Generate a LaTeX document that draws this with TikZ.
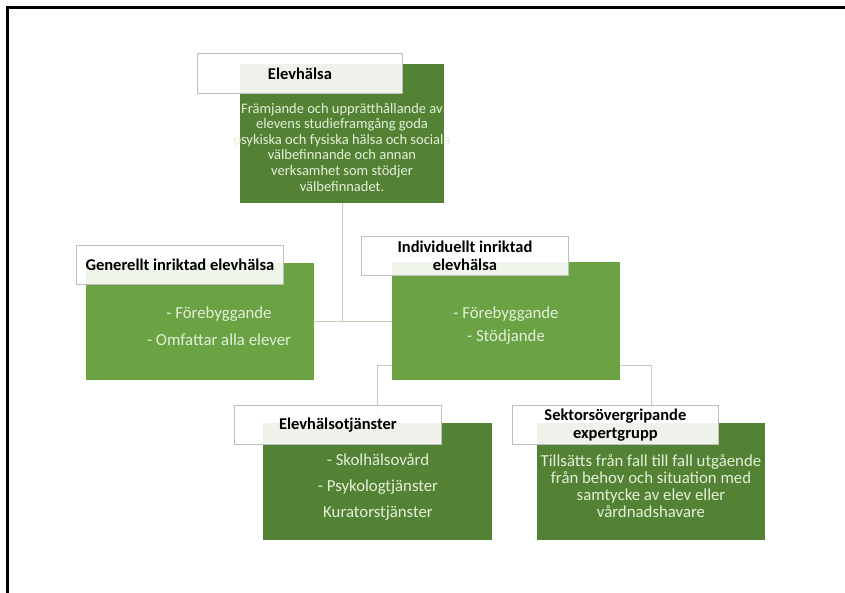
\documentclass[tikz,border=0pt]{standalone}
\usepackage{fontspec}
\setmainfont{Carlito}
\definecolor{dkgreen}{RGB}{84,130,53}
\definecolor{ltgreen}{RGB}{106,162,68}
\definecolor{boxtxt}{RGB}{226,240,217}
\definecolor{lblborder}{RGB}{190,190,190}
\definecolor{conn}{RGB}{195,208,185}
\begin{document}
\begin{tikzpicture}[x=1pt,y=-1pt,
  gbox/.style={fill=#1, draw=none, inner sep=0pt, anchor=north west},
  lbox/.style={fill=white, fill opacity=0.9, text opacity=1, draw=lblborder, line width=0.8pt, inner sep=0pt, anchor=north west,
     minimum width=207pt, minimum height=39pt},
  ltxt/.style={font=\fontsize{16.5}{18}\selectfont\bfseries, align=center, text=black, inner sep=0pt},
  btxt/.style={font=\fontsize{16.8}{20}\selectfont, align=center, text=boxtxt, inner sep=0pt},
  connector/.style={draw=conn, line width=1.4pt}]
\useasboundingbox (0,0) rectangle (845,593);
\fill[white] (0,0) rectangle (845,593);
% frame
\draw[black, line width=3pt] (7.5,593) -- (7.5,7.5) -- (845,7.5);

% green boxes
\node[gbox=dkgreen, minimum width=204pt, minimum height=139pt] (top) at (240,64) {};
\node[gbox=ltgreen, minimum width=228pt, minimum height=117pt] (gen) at (86,263) {};
\node[gbox=ltgreen, minimum width=228pt, minimum height=118pt] (ind) at (392,262) {};
\node[gbox=dkgreen, minimum width=229pt, minimum height=117pt] (elv) at (263,423) {};
\node[gbox=dkgreen, minimum width=228pt, minimum height=117pt] (sek) at (537,423) {};

% connectors
\coordinate (j) at ([yshift=15pt]ind.south);
\draw[connector] (top.south) |- (gen.east);
\draw[connector] (top.south |- ind.west) -- (ind.west);
\draw[connector] (ind.south) -- (j) -| (elv.north);
\draw[connector] (j) -| (sek.north);

% redraw boxes on top of connectors
\fill[dkgreen] (top.north west) rectangle (top.south east);
\fill[ltgreen] (gen.north west) rectangle (gen.south east);
\fill[ltgreen] (ind.north west) rectangle (ind.south east);
\fill[dkgreen] (elv.north west) rectangle (elv.south east);
\fill[dkgreen] (sek.north west) rectangle (sek.south east);

% label boxes
\node[lbox, minimum width=205pt, minimum height=40pt] (toplbl) at (197,53) {};
\node[lbox] (genlbl) at (76,245) {};
\node[lbox] (indlbl) at (361,236) {};
\node[lbox] (elvlbl) at (234,405) {};
\node[lbox, minimum width=206pt] (seklbl) at (512,405) {};

\node[ltxt] (toplt) at (toplbl.center) {Elevhälsa};
\node[ltxt] (genlt) at (genlbl.center) {Generellt inriktad elevhälsa};
\node[ltxt] (indlt) at (indlbl.center) {Individuellt inriktad\\elevhälsa};
\node[ltxt] (elvlt) at (elvlbl.center) {Elevhälsotjänster};
\node[ltxt] (seklt) at (seklbl.center) {Sektorsövergripande\\expertgrupp};

% body texts
\node[btxt, font=\fontsize{14.5}{15.6}\selectfont] (toptx) at (342,147) {Främjande och upprätthållande av\\elevens studieframgång goda\\psykiska och fysiska hälsa och sociala\\välbefinnande och annan\\verksamhet som stödjer\\välbefinnadet.};
\node[btxt] (gentx) at (219,326) {- Förebyggande\\[7pt]- Omfattar alla elever};
\node[btxt] (indtx) at (506,326) {- Förebyggande\\[3pt]- Stödjande};
\node[btxt] (elvtx) at (378,487) {- Skolhälsovård\\[6pt]- Psykologtjänster\\[6pt]Kuratorstjänster};
\node[btxt, font=\fontsize{16.8}{17}\selectfont] (sektx) at (651,486) {Tillsätts från fall till fall utgående\\från behov och situation med\\samtycke av elev eller\\vårdnadshavare};
\end{tikzpicture}
\end{document}
